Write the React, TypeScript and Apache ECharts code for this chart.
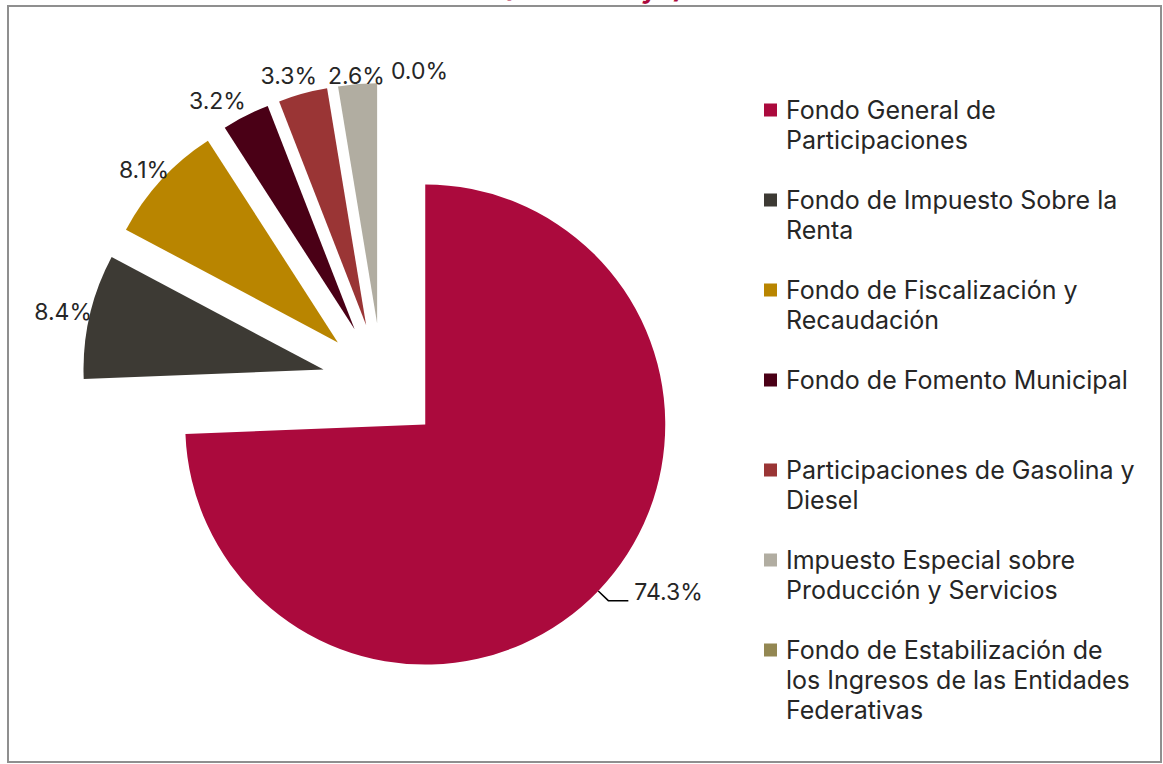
import React, { useEffect, useRef } from 'react';
import * as echarts from 'echarts';

const titleText = '(Enero-mayo)';

const categories = [
  'Fondo General de Participaciones',
  'Fondo de Impuesto Sobre la Renta',
  'Fondo de Fiscalización y Recaudación',
  'Fondo de Fomento Municipal',
  'Participaciones de Gasolina y Diesel',
  'Impuesto Especial sobre Producción y Servicios',
  'Fondo de Estabilización de los Ingresos de las Entidades Federativas',
];

const values = [74.3, 8.4, 8.1, 3.2, 3.3, 2.6, 0.0];

const colors = ['#AB0A3D', '#3D3A34', '#B98500', '#4A0016', '#9A3535', '#B1ADA1', '#938752'];

const legendLines = [
  ['Fondo General de', 'Participaciones'],
  ['Fondo de Impuesto Sobre la', 'Renta'],
  ['Fondo de Fiscalización y', 'Recaudación'],
  ['Fondo de Fomento Municipal'],
  ['Participaciones de Gasolina y', 'Diesel'],
  ['Impuesto Especial sobre', 'Producción y Servicios'],
  ['Fondo de Estabilización de', 'los Ingresos de las Entidades', 'Federativas'],
];

// label placement (layout only): radial line length, horizontal length, text distance
const labelLen1 = [14, 20, 15, 17, 18, 8, 12];
const labelLen2 = [20, 0, 0, 0, 0, 0, 0];
const labelDist = [6, -22, -19, -8, -19, -28, -66];

const FONT = 'Inter, "Noto Sans", sans-serif';
const LABEL_SIZE = 23;
const LEGEND_SIZE = 25;
const LINE_H = 30;

export default function App() {
  const ref = useRef<HTMLDivElement>(null);

  useEffect(() => {
    if (!ref.current) return;
    const chart = echarts.init(ref.current, null, { renderer: 'svg' });

    const data = categories.map((name, i) => ({
      name,
      value: values[i],
      selected: true,
      itemStyle: { color: colors[i] },
      label: { distanceToLabelLine: labelDist[i] },
      labelLine: {
        show: i === 0,
        length: labelLen1[i],
        length2: labelLen2[i],
        lineStyle: { color: '#000', width: 1.5 },
      },
    }));

    const legends = categories.map((name, i) => {
      const n = legendLines[i].length;
      const h = n * LINE_H;
      const c = LINE_H / 2;
      const icon = `path://M0,0L0.01,0M0,${h}L0.01,${h}M0,${c - 6.5}L13,${c - 6.5}L13,${c + 6.5}L0,${c + 6.5}Z`;
      return {
        data: [name],
        left: 764,
        top: 110 + 90 * i - c,
        padding: 0,
        orient: 'vertical',
        icon,
        itemWidth: 13,
        itemHeight: h,
        selectedMode: false,
        formatter: () => legendLines[i].join('\n'),
        textStyle: {
          fontFamily: FONT,
          fontSize: LEGEND_SIZE,
          color: '#262626',
          lineHeight: LINE_H,
          padding: [0, 0, 0, 4],
        },
      };
    });

    chart.setOption({
      animation: false,
      backgroundColor: '#fff',
      title: {
        text: titleText,
        left: 497,
        top: -30,
        textStyle: { fontFamily: FONT, fontSize: 27, fontWeight: 'bold', color: '#AB0A3D' },
      },
      legend: legends,
      graphic: [
        {
          type: 'rect',
          shape: { x: 8, y: 6, width: 1153, height: 756 },
          style: { fill: 'none', stroke: '#8f8f8f', lineWidth: 2 },
          silent: true,
        },
      ],
      series: [
        {
          type: 'pie',
          center: [382, 383],
          radius: 240,
          startAngle: 90,
          clockwise: true,
          selectedMode: 'multiple',
          selectedOffset: 60,
          avoidLabelOverlap: false,
          data,
          label: {
            show: true,
            position: 'outside',
            bleedMargin: 0,
            formatter: (p: any) => {
              const t = `${Number(p.value).toFixed(1)}%`;
              return p.dataIndex === 0 ? `{v|${t}}\n{s| }` : `{v|${t}}`;
            },
            rich: {
              v: { fontFamily: FONT, fontSize: LABEL_SIZE, lineHeight: 28, color: '#262626' },
              s: { fontFamily: FONT, fontSize: 10, lineHeight: 18, color: '#262626' },
            },
          },
          labelLayout: () => ({}),
          emphasis: { disabled: true },
        },
      ],
    });

    return () => chart.dispose();
  }, []);

  return (
    <div
      ref={ref}
      style={{ position: 'absolute', left: 0, top: 0, width: 1163, height: 764 }}
    />
  );
}
